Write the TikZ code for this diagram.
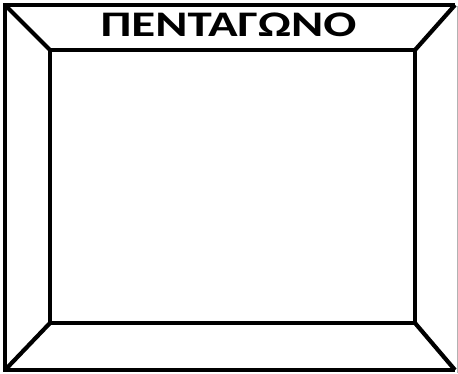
\documentclass[tikz,border=0pt]{standalone}
\usepackage{fontspec}
\setmainfont{Carlito}
\begin{document}
\begin{tikzpicture}[x=1pt,y=-1pt,
                    frame/.style={line width=4.2pt,line join=miter},
                    rim/.style={line width=.8pt,draw=black!30},
                    every node/.style={font=\bfseries\fontsize{36}{42}\selectfont}]
 \useasboundingbox (0,0) rectangle (458,373);
 % outer corners
 \coordinate (otl) at (5,5);
 \coordinate (otr) at (455,5);
 \coordinate (obl) at (5,370);
 \coordinate (obr) at (455,370);
 % inner corners
 \coordinate (itl) at (50,50);
 \coordinate (itr) at (415,50);
 \coordinate (ibl) at (50,323);
 \coordinate (ibr) at (415,323);
 \draw[frame] (otr)--(otl)--(obl)--(obr);
 \draw[rim] (457,6)--(457,373);
 \draw[frame] (itl) rectangle (ibr);
 \draw[frame] (otl)--(itl);
 \draw[frame] (otr)--(itr);
 \draw[frame] (obl)--(ibl);
 \draw[frame] (obr)--(ibr);
 \node[xscale=1.36] (title) at (228.5,25) {ΠΕΝΤΑΓΩΝΟ};
\end{tikzpicture}
\end{document}
